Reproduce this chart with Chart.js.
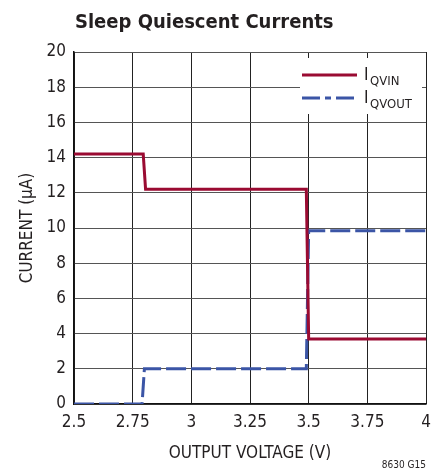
<!DOCTYPE html>
<html>
<head>
<meta charset="utf-8">
<script src="https://cdn.jsdelivr.net/npm/chart.js@4"></script>
<style>
  html, body { margin: 0; padding: 0; background: #fff; }
  #wrap { width: 441px; height: 473px; position: relative; }
</style>
</head>
<body>
<div id="wrap"><canvas id="c" width="441" height="473"></canvas></div>
<script>
const FONT = "'Liberation Sans Narrow', 'DejaVu Sans Condensed', 'Liberation Sans', sans-serif";

// output voltage (V) vs current (µA)
const qvinX = [2.5, 2.795, 2.805, 3.49, 3.5, 4.0];
const qvinY = [14.2, 14.2, 12.2, 12.2, 3.7, 3.7];
const qvoutX = [2.5, 2.79, 2.80, 3.49, 3.5, 4.0];
const qvoutY = [0, 0, 2.0, 2.0, 9.85, 9.85];
const xTicks = [2.5, 2.75, 3, 3.25, 3.5, 3.75, 4];
const seriesNames = ['QVIN', 'QVOUT'];
const seriesColors = ['#9a0b32', '#3b55a6'];

function pts(xs, ys) {
    return xs.map((x, i) => ({ x: x, y: ys[i] }));
}

// title, legend box and figure id drawn on top of the chart
const decor = {
    id: 'decor',
    afterDraw(chart) {
        const ctx = chart.ctx;
        const area = chart.chartArea;
        ctx.save();
        ctx.fillStyle = '#231f20';
        ctx.font = "bold 20px " + FONT;
        ctx.textAlign = 'left';
        ctx.textBaseline = 'alphabetic';
        ctx.fillText('Sleep Quiescent Currents', 75, 28);

        // legend
        ctx.fillStyle = '#fff';
        ctx.fillRect(area.right - 126, area.top + 6, 122, 56);
        for (let i = 0; i < 2; i++) {
            const y = area.top + 23 + i * 23;
            ctx.strokeStyle = seriesColors[i];
            ctx.lineWidth = 3;
            ctx.setLineDash(i === 1 ? [18, 5, 6, 5] : []);
            ctx.beginPath();
            ctx.moveTo(area.right - 124, y);
            ctx.lineTo(area.right - 69, y);
            ctx.stroke();
            ctx.setLineDash([]);
            ctx.fillStyle = '#231f20';
            ctx.font = "17px " + FONT;
            ctx.fillText('I', area.right - 62, y + 5);
            ctx.font = "13px " + FONT;
            ctx.fillText(seriesNames[i], area.right - 56, y + 10);
        }

        ctx.font = "10px " + FONT;
        ctx.textAlign = 'right';
        ctx.fillText('8630 G15', 426, 468);
        ctx.restore();
    }
};

new Chart(document.getElementById('c'), {
    type: 'line',
    data: {
        datasets: [
            {
                label: 'IQVIN',
                data: pts(qvinX, qvinY),
                borderColor: seriesColors[0],
                borderWidth: 3,
                pointRadius: 0,
                tension: 0
            },
            {
                label: 'IQVOUT',
                data: pts(qvoutX, qvoutY),
                borderColor: seriesColors[1],
                borderWidth: 3,
                borderDash: [20, 5],
                pointRadius: 0,
                tension: 0
            }
        ]
    },
    options: {
        responsive: false,
        animation: false,
        layout: { padding: { top: 52, right: 15, left: 0, bottom: 0 } },
        plugins: {
            legend: { display: false },
            tooltip: { enabled: false }
        },
        scales: {
            x: {
                type: 'linear',
                min: 2.5,
                max: 4,
                afterBuildTicks: axis => { axis.ticks = xTicks.map(v => ({ value: v })); },
                afterFit: axis => { axis.height = 69; },
                grid: { color: '#222', lineWidth: 1, drawTicks: false },
                border: { color: '#111', width: 1.5 },
                ticks: {
                    padding: 8,
                    color: '#231f20',
                    font: { family: FONT, size: 17 },
                    maxRotation: 0,
                    callback: v => String(v)
                },
                title: {
                    display: true,
                    text: 'OUTPUT VOLTAGE (V)',
                    color: '#231f20',
                    font: { family: FONT, size: 17 },
                    padding: { top: 0, bottom: 9 }
                }
            },
            y: {
                min: 0,
                max: 20,
                afterFit: axis => { axis.width = 74; },
                grid: { color: '#555', lineWidth: 1, drawTicks: false },
                border: { color: '#111', width: 1.5 },
                ticks: {
                    stepSize: 2,
                    padding: 8,
                    color: '#231f20',
                    font: { family: FONT, size: 17 }
                },
                title: {
                    display: true,
                    text: 'CURRENT (µA)',
                    color: '#231f20',
                    font: { family: FONT, size: 17 },
                    padding: { top: 17, bottom: 0 }
                }
            }
        }
    },
    plugins: [decor]
});
</script>
</body>
</html>
